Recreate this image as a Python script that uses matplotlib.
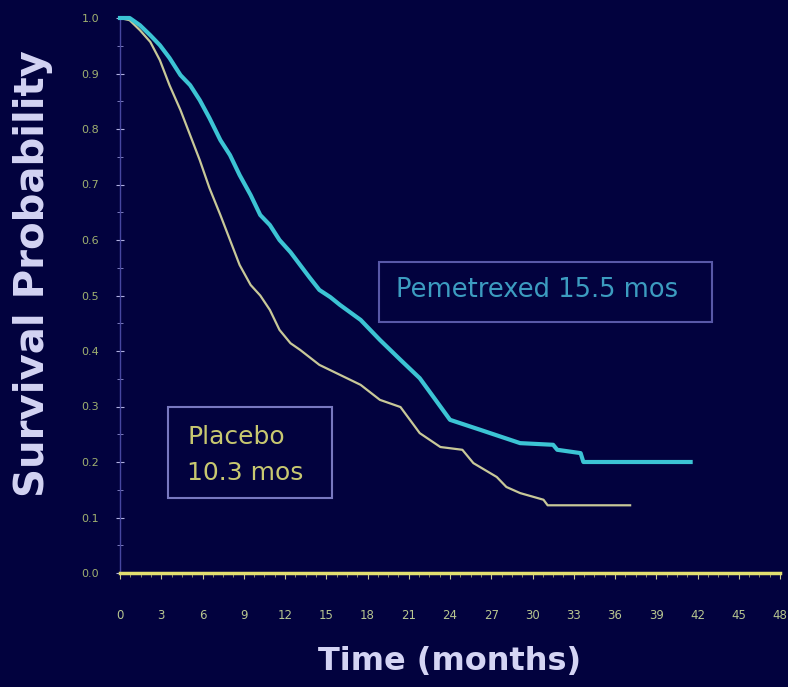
import matplotlib
matplotlib.use('Agg')
import matplotlib.pyplot as plt
from matplotlib.patches import Rectangle
from matplotlib.ticker import MultipleLocator

# Kaplan-Meier curves (months, survival probability)
pem_t = [0, 0.7, 1.45, 2.2, 2.9, 3.6, 4.4, 5.1, 5.8, 6.5, 7.3, 8.0, 8.7, 9.5,
         10.2, 10.9, 11.6, 12.4, 13.1, 13.8, 14.5, 15.3, 16.0, 17.5, 18.9,
         20.4, 21.8, 22.8, 24.0, 26.2, 29.1, 31.5, 31.8, 33.5, 33.7, 41.5]
pem_s = [1.0, 1.0, 0.987, 0.969, 0.951, 0.928, 0.897, 0.879, 0.852, 0.82,
         0.78, 0.753, 0.717, 0.681, 0.645, 0.627, 0.60, 0.578, 0.555, 0.532,
         0.51, 0.497, 0.483, 0.456, 0.42, 0.384, 0.351, 0.317, 0.276, 0.258,
         0.234, 0.231, 0.222, 0.216, 0.20, 0.20]

plc_t = [0, 0.7, 1.45, 2.2, 2.9, 3.6, 4.4, 5.1, 5.8, 6.5, 7.3, 8.0, 8.7, 9.5,
         10.2, 10.9, 11.6, 12.4, 13.1, 14.5, 16.0, 17.5, 18.9, 20.4, 21.8,
         23.3, 24.9, 25.7, 27.4, 28.1, 29.1, 30.8, 31.1, 37.1]
plc_s = [1.0, 0.996, 0.978, 0.957, 0.924, 0.879, 0.834, 0.789, 0.744, 0.694,
         0.645, 0.60, 0.555, 0.519, 0.50, 0.474, 0.438, 0.414, 0.402, 0.375,
         0.357, 0.339, 0.312, 0.299, 0.252, 0.227, 0.222, 0.198, 0.173, 0.155,
         0.144, 0.132, 0.122, 0.122]

x_ticks = list(range(0, 49, 3))
y_ticks = [i / 10 for i in range(11)]
y_labels = ['%.1f' % v for v in y_ticks]

bg = '#02023e'
fig = plt.figure(figsize=(7.88, 6.87), dpi=100, facecolor=bg)
ax = fig.add_axes([120 / 788, 114 / 687, 660 / 788, 555 / 687], facecolor=bg)

ax.plot(plc_t, plc_s, color='#c8c898', lw=1.6, clip_on=False, zorder=3)
ax.plot(pem_t, pem_s, color='#3cc4d4', lw=3, clip_on=False, zorder=4)

ax.set_xlim(0, 48)
ax.set_ylim(0, 1.0)

for s in ['top', 'right']:
    ax.spines[s].set_visible(False)
ax.spines['bottom'].set_color('#e2e070')
ax.spines['bottom'].set_linewidth(2.5)
ax.spines['left'].set_color('#4646a0')
ax.spines['left'].set_linewidth(1)

ax.set_xticks(x_ticks)
ax.set_xticklabels([str(v) for v in x_ticks])
ax.xaxis.set_minor_locator(MultipleLocator(0.75))
ax.tick_params(axis='x', which='major', length=4, color='#c8c890', pad=22,
               labelsize=8.5, labelcolor='#b8c690')
ax.tick_params(axis='x', which='minor', length=3, color='#a0a070')

ax.set_yticks(y_ticks)
ax.set_yticklabels(y_labels)
ax.yaxis.set_minor_locator(MultipleLocator(0.05))
ax.tick_params(axis='y', which='major', length=6, direction='inout', color='#b0b0e0',
               pad=12, labelsize=8, labelcolor='#a0b070')
ax.tick_params(axis='y', which='minor', length=5, direction='inout', color='#9090d0')

ax.set_xlabel('Time (months)', fontsize=23, fontweight='bold', color='#d4d4f4')
ax.xaxis.set_label_coords(0.5, -0.132)
ax.set_ylabel('Survival Probability', fontsize=29, fontweight='bold', color='#d4d4f4')
ax.yaxis.set_label_coords(-0.101, 0.54)

# annotation boxes
ax.add_patch(Rectangle((18.8, 0.452), 24.25, 0.108, fill=False, ec='#5858a8', lw=1.5, clip_on=False))
ax.text(30.3, 0.51, 'Pemetrexed 15.5 mos', color='#3c9cc0', fontsize=18.5, ha='center', va='center')

ax.add_patch(Rectangle((3.5, 0.135), 11.9, 0.164, fill=False, ec='#7878c0', lw=1.5, clip_on=False))
ax.text(4.9, 0.245, 'Placebo', color='#c8c870', fontsize=18, ha='left', va='center')
ax.text(4.9, 0.18, '10.3 mos', color='#c8c870', fontsize=18, ha='left', va='center')

fig.savefig('out.png', dpi=100, facecolor=bg)
